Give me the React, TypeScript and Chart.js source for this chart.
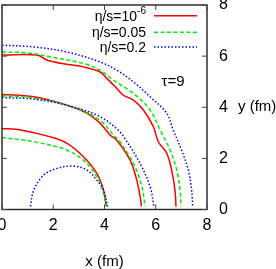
import { useEffect, useRef } from "react";
import { Chart, registerables } from "chart.js";

Chart.register(...registerables);

// ---- data ----
const xTickValues = [0, 2, 4, 6, 8];
const yTickValues = [0, 2, 4, 6, 8];
const seriesNames = ["η/s=10", "η/s=0.05", "η/s=0.2"];
const seriesSup = ["-6", "", ""];
const tauLabel = "τ=9";
const xTitle = "x (fm)";
const yTitle = "y (fm)";

// eta/s = 1e-6 (red, solid)
const redInner: [number, number][] = [
  [0, 3.17], [0.72, 3.11], [1.89, 2.84], [2.54, 2.59], [3.18, 2.06],
  [3.7, 1.41], [3.96, 0.76], [4.07, 0.12],
];
const redMiddle: [number, number][] = [
  [0, 4.5], [1.24, 4.41], [2.54, 4.08], [3.32, 3.76], [3.83, 3.37],
  [4.22, 2.91], [4.48, 2.71], [5.0, 1.93], [5.26, 1.15], [5.39, 0.5], [5.44, 0.12],
];
const redOuter: [number, number][] = [
  [0, 6.04], [1.37, 6.04], [1.76, 5.84], [2.54, 5.68], [3.18, 5.58],
  [3.83, 5.38], [4.09, 5.13], [4.42, 4.8], [4.74, 4.47], [5.13, 4.28],
  [5.52, 3.89], [5.91, 3.23], [6.1, 2.65], [6.43, 2.2], [6.62, 1.54],
  [6.75, 0.76], [6.79, 0.12],
];

// eta/s = 0.05 (green, dashed)
const greenInner: [number, number][] = [
  [0, 2.82], [1.24, 2.65], [2.54, 2.32], [3.32, 1.8], [3.83, 1.02], [4.09, 0.12],
];
const greenMiddle: [number, number][] = [
  [0, 4.45], [1.24, 4.36], [2.54, 4.08], [3.37, 3.76], [3.96, 3.37],
  [4.35, 2.91], [4.61, 2.64], [5.13, 1.8], [5.46, 0.89], [5.58, 0.12],
];
const greenOuter: [number, number][] = [
  [0, 6.16], [0.98, 6.13], [1.89, 5.97], [3.18, 5.71], [3.83, 5.45],
  [4.35, 5.06], [5.13, 4.54], [5.78, 3.89], [6.17, 3.11], [6.56, 2.32],
  [6.82, 1.54], [6.95, 0.76], [6.98, 0.12],
];

// eta/s = 0.2 (blue, dotted)
const blueInner: [number, number][] = [
  [1.11, 0.12], [1.24, 0.76], [1.63, 1.35], [2.15, 1.61], [2.79, 1.7],
  [3.32, 1.54], [3.7, 1.15], [3.96, 0.76], [4.12, 0.12],
];
const blueMiddle: [number, number][] = [
  [0, 4.38], [1.24, 4.32], [2.54, 4.08], [3.83, 3.63], [4.53, 3.11],
  [4.84, 2.71], [5.39, 1.8], [5.78, 0.89], [5.93, 0.12],
];
const blueOuter: [number, number][] = [
  [0, 6.43], [1.24, 6.36], [2.54, 6.16], [3.83, 5.77], [4.48, 5.45],
  [5.13, 4.99], [5.78, 4.41], [6.43, 3.76], [6.68, 3.11], [7.01, 2.32],
  [7.27, 1.54], [7.4, 0.76], [7.44, 0.12],
];

const colors = ["#ff0000", "#00ee00", "#0000ff"];
const dashes: number[][] = [[], [4, 2.5], [1.5, 2]];
const FONT = "'Liberation Sans', Arial, Helvetica, sans-serif";

function zeroPadding(s: any) {
  s.paddingLeft = 0;
  s.paddingRight = 0;
  s.paddingTop = 0;
  s.paddingBottom = 0;
}

export default function App() {
  const ref = useRef<HTMLCanvasElement | null>(null);

  useEffect(() => {
    if (!ref.current) return;
    const groups = [
      [blueInner, blueMiddle, blueOuter],
      [greenInner, greenMiddle, greenOuter],
      [redInner, redMiddle, redOuter],
    ];
    const groupStyle = [2, 1, 0];
    const datasets: any[] = [];
    groups.forEach((g, gi) => {
      const s = groupStyle[gi];
      g.forEach((curve) => {
        datasets.push({
          data: curve.map(([x, y]) => ({ x, y })),
          showLine: true,
          borderColor: colors[s],
          borderWidth: 1.5,
          borderDash: dashes[s],
          pointRadius: 0,
          tension: 0.35,
          fill: false,
        });
      });
    });

    const framePlugin = {
      id: "frame",
      afterDraw(chart: any) {
        const { ctx, chartArea } = chart;
        const { left, right, top, bottom } = chartArea;
        const xs = chart.scales.x;
        const ys = chart.scales.y;
        ctx.save();
        // frame
        ctx.strokeStyle = "#222";
        ctx.lineWidth = 1.4;
        ctx.setLineDash([]);
        ctx.strokeRect(left, top, right - left, bottom - top);
        // inward ticks
        const tl = 5;
        ctx.lineWidth = 1;
        ctx.strokeStyle = "#444";
        ctx.beginPath();
        xTickValues.forEach((v) => {
          const px = xs.getPixelForValue(v);
          ctx.moveTo(px, bottom);
          ctx.lineTo(px, bottom - tl);
          ctx.moveTo(px, top);
          ctx.lineTo(px, top + tl);
        });
        yTickValues.forEach((v) => {
          const py = ys.getPixelForValue(v);
          ctx.moveTo(left, py);
          ctx.lineTo(left + tl, py);
          ctx.moveTo(right, py);
          ctx.lineTo(right - tl, py);
        });
        ctx.stroke();

        // legend
        const textRight = 146;
        const lineX0 = 154;
        const lineX1 = 197;
        const rowY = [15.7, 32.3, 47];
        ctx.fillStyle = "#000";
        ctx.textBaseline = "middle";
        seriesNames.forEach((name, i) => {
          let supW = 0;
          if (seriesSup[i]) {
            ctx.font = `10px ${FONT}`;
            supW = ctx.measureText(seriesSup[i]).width;
            ctx.textAlign = "left";
            ctx.fillText(seriesSup[i], textRight - supW, rowY[i] - 4.5);
          }
          ctx.font = `14px ${FONT}`;
          ctx.textAlign = "right";
          ctx.fillText(name, textRight - supW, rowY[i] + 1);
          ctx.strokeStyle = colors[i];
          ctx.lineWidth = 1.5;
          ctx.setLineDash(dashes[i]);
          ctx.beginPath();
          ctx.moveTo(lineX0, rowY[i]);
          ctx.lineTo(lineX1, rowY[i]);
          ctx.stroke();
        });
        ctx.setLineDash([]);

        // tau label
        ctx.font = `15px ${FONT}`;
        ctx.textAlign = "center";
        ctx.fillStyle = "#000";
        ctx.fillText(tauLabel, 173, 82);

        // axis titles
        ctx.font = `15px ${FONT}`;
        ctx.textAlign = "left";
        ctx.fillText(yTitle, 238, ys.getPixelForValue(4));
        ctx.textAlign = "center";
        ctx.fillText(xTitle, (left + right) / 2, 262);
        ctx.restore();
      },
    };

    const chart = new Chart(ref.current, {
      type: "scatter",
      data: { datasets },
      options: {
        animation: false,
        responsive: false,
        maintainAspectRatio: false,
        layout: { padding: { left: 2, top: 5, right: 0, bottom: 0 } },
        plugins: { legend: { display: false }, tooltip: { enabled: false } },
        scales: {
          x: {
            type: "linear",
            position: "bottom",
            min: 0,
            max: 8,
            grid: { display: false, drawTicks: false },
            border: { display: false },
            ticks: {
              stepSize: 2,
              padding: 6,
              color: "#000",
              maxRotation: 0,
              font: { family: FONT, size: 16 },
            },
            afterFit: (s: any) => {
              s.height = 59.5;
              zeroPadding(s);
            },
          },
          y: {
            type: "linear",
            position: "right",
            min: 0,
            max: 8,
            grid: { display: false, drawTicks: false },
            border: { display: false },
            ticks: {
              stepSize: 2,
              padding: 12,
              color: "#000",
              font: { family: FONT, size: 16 },
            },
            afterFit: (s: any) => {
              s.width = 69;
              zeroPadding(s);
            },
          },
        },
      },
      plugins: [framePlugin],
    });
    return () => chart.destroy();
  }, []);

  return (
    <div style={{ position: "fixed", left: 0, top: 0, width: 276, height: 269, background: "#fff" }}>
      <canvas ref={ref} width={276} height={269} style={{ width: 276, height: 269, display: "block" }} />
    </div>
  );
}
